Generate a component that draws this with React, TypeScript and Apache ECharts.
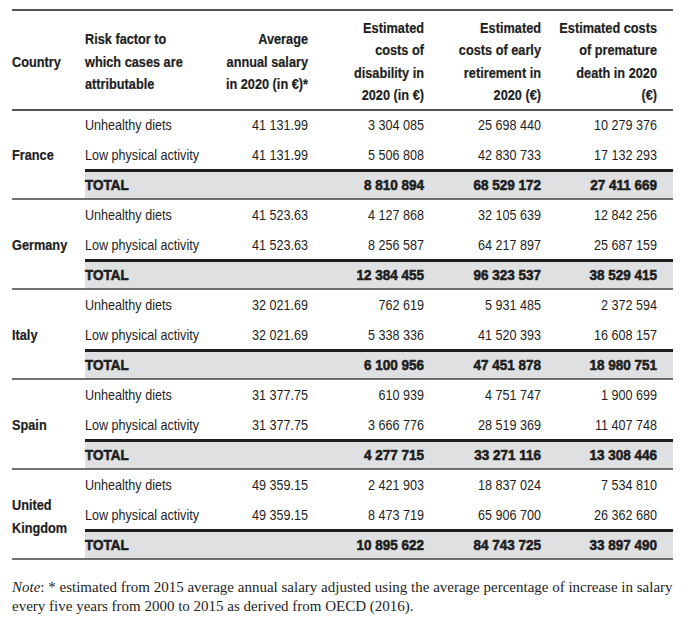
import React, { useEffect, useRef } from "react";
import * as echarts from "echarts";

const countries = ["France", "Germany", "Italy", "Spain", "United\nKingdom"];
const riskFactors = ["Unhealthy diets", "Low physical activity"];
const salaries = [
  ["41 131.99", "41 131.99"],
  ["41 523.63", "41 523.63"],
  ["32 021.69", "32 021.69"],
  ["31 377.75", "31 377.75"],
  ["49 359.15", "49 359.15"],
];
const disability = [
  ["3 304 085", "5 506 808", "8 810 894"],
  ["4 127 868", "8 256 587", "12 384 455"],
  ["762 619", "5 338 336", "6 100 956"],
  ["610 939", "3 666 776", "4 277 715"],
  ["2 421 903", "8 473 719", "10 895 622"],
];
const earlyRetirement = [
  ["25 698 440", "42 830 733", "68 529 172"],
  ["32 105 639", "64 217 897", "96 323 537"],
  ["5 931 485", "41 520 393", "47 451 878"],
  ["4 751 747", "28 519 369", "33 271 116"],
  ["18 837 024", "65 906 700", "84 743 725"],
];
const prematureDeath = [
  ["10 279 376", "17 132 293", "27 411 669"],
  ["12 842 256", "25 687 159", "38 529 415"],
  ["2 372 594", "16 608 157", "18 980 751"],
  ["1 900 699", "11 407 748", "13 308 446"],
  ["7 534 810", "26 362 680", "33 897 490"],
];
const headers = [
  "Country",
  "Risk factor to\nwhich cases are\nattributable",
  "Average\nannual salary\nin 2020 (in €)*",
  "Estimated\ncosts of\ndisability in\n2020 (in €)",
  "Estimated\ncosts of early\nretirement in\n2020 (€)",
  "Estimated costs\nof premature\ndeath in 2020\n(€)",
];
const totalLabel = "TOTAL";
const noteLine1 = " estimated from 2015 average annual salary adjusted using the average percentage of increase in salary";
const noteLine2 = "every five years from 2000 to 2015 as derived from OECD (2016).";

const FONT = "'Liberation Sans', Arial, sans-serif";
const SERIF = "'Liberation Serif', 'DejaVu Serif', serif";
const TXT = "#1e1e1e";

export default function App() {
  const ref = useRef<HTMLDivElement>(null);
  useEffect(() => {
    if (!ref.current) return;
    const chart = echarts.init(ref.current, null, { renderer: "svg" });
    const els: any[] = [];
    const L = 12, R = 673, C2 = 85;
    const colRight = [0, 0, 308, 424, 541, 657];

    type Kind = "reg" | "head" | "tot";
    const spec: Record<Kind, { size: number; sx: number; bold: boolean; stroke: number }> = {
      reg: { size: 14, sx: 0.9, bold: false, stroke: 0 },
      head: { size: 15, sx: 0.85, bold: true, stroke: 0.2 },
      tot: { size: 15, sx: 0.9, bold: true, stroke: 0.6 },
    };
    const txt = (x: number, y: number, text: string, align: string, kind: Kind = "reg") => {
      const s = spec[kind];
      els.push({
        type: "text",
        x, y,
        scaleX: s.sx,
        style: {
          text,
          fill: TXT,
          stroke: s.stroke ? TXT : undefined,
          lineWidth: s.stroke,
          font: `${s.bold ? "bold " : ""}${s.size}px ${FONT}`,
          align,
          verticalAlign: "middle",
          lineHeight: 22.5,
        },
      });
    };
    const line = (x1: number, x2: number, y: number, w: number, color: string) =>
      els.push({
        type: "line",
        shape: { x1, y1: y, x2, y2: y },
        style: { stroke: color, lineWidth: w },
      });

    // top rule
    line(L, R, 10, 2, "#555");
    // headers
    txt(L, 62, headers[0], "left", "head");
    txt(C2, 61.5, headers[1], "left", "head");
    txt(colRight[2], 61.5, headers[2], "right", "head");
    for (let c = 3; c < 6; c++) txt(colRight[c], 61, headers[c], "right", "head");

    countries.forEach((country, g) => {
      const base = 110 + g * 90;
      els.push({
        type: "rect",
        shape: { x: C2, y: base + 60, width: R - C2, height: 29 },
        style: { fill: "#dfe0e1" },
      });
      line(C2, R, base + 60.5, 3, "#1e1e1e");
      line(L, R, base + 89, 1.6, "#444");

      const cy = g === 4 ? base + 46 : base + 45;
      txt(L, cy, country, "left", "head");
      riskFactors.forEach((rf, r) => {
        const y = base + 15 + r * 30;
        txt(C2, y, rf, "left");
        txt(colRight[2], y, salaries[g][r], "right");
        txt(colRight[3], y, disability[g][r], "right");
        txt(colRight[4], y, earlyRetirement[g][r], "right");
        txt(colRight[5], y, prematureDeath[g][r], "right");
      });
      const ty = base + 74.5;
      txt(C2, ty, totalLabel, "left", "tot");
      txt(colRight[3], ty, disability[g][2], "right", "tot");
      txt(colRight[4], ty, earlyRetirement[g][2], "right", "tot");
      txt(colRight[5], ty, prematureDeath[g][2], "right", "tot");
    });
    line(L, R, 110, 2, "#555");

    // note
    els.push({
      type: "text",
      x: L,
      y: 587,
      style: {
        text: "{i|Note}{n|: *" + noteLine1 + "}",
        verticalAlign: "middle",
        rich: {
          i: { font: `italic 15px ${SERIF}`, fill: TXT },
          n: { font: `15px ${SERIF}`, fill: TXT },
        },
      },
    });
    els.push({
      type: "text",
      x: L,
      y: 606,
      style: { text: noteLine2, font: `15px ${SERIF}`, fill: TXT, verticalAlign: "middle" },
    });

    chart.setOption({
      animation: false,
      backgroundColor: "#ffffff",
      graphic: { elements: els },
    });
    return () => chart.dispose();
  }, []);
  return (
    <div
      ref={ref}
      style={{ position: "absolute", left: 0, top: 0, width: 684, height: 626 }}
    />
  );
}
